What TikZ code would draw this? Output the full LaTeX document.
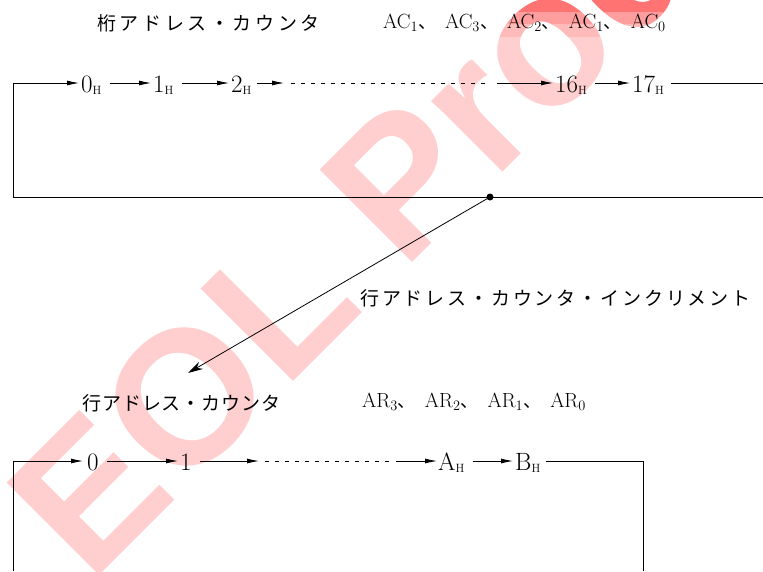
\documentclass[tikz,border=0pt]{standalone}
\usepackage{fontspec}
\newfontfamily\jpA[LetterSpace=19]{Noto Sans CJK JP}
\newfontfamily\jpB[LetterSpace=15]{Noto Sans CJK JP}
\newfontfamily\jpC[LetterSpace=5]{Noto Sans CJK JP}
\newfontfamily\jpN{Noto Sans CJK JP}
\newfontfamily\wmfont{Liberation Sans}
\usetikzlibrary{arrows.meta}
\newcommand{\hx}[1]{#1\raisebox{-2pt}{\fontsize{12pt}{12pt}\selectfont H}}
\newcommand{\sep}{{\jpN\fontsize{18pt}{18pt}\selectfont 、}\hspace{9pt}}
\begin{document}
\begin{tikzpicture}[x=1pt,y=-1pt,
  lbl/.style={inner xsep=0pt, inner ysep=0pt, text height=19pt, text depth=0pt, anchor=west, font=\fontsize{25}{25}\selectfont},
  ttl/.style={inner sep=0pt, anchor=base west},
  jtitle/.style={ttl, font=\fontsize{19}{19}\selectfont},
  actitle/.style={ttl, font=\fontsize{20.5}{20.5}\selectfont},
  ln/.style={line width=0.8pt},
  arr/.style={ln, -{Latex[length=12pt,width=5pt]}},
  narr/.style={arr, shorten <=8pt, shorten >=2pt},
  dsh/.style={ln, dash pattern=on 4pt off 6pt},
  wm/.style={inner sep=0pt, anchor=base west, rotate=45,
    font=\fontsize{190}{190}\selectfont\wmfont\bfseries}]
\useasboundingbox (0,0) rectangle (763,571);
\fill[white] (0,0) rectangle (763,571);
% watermark (pink, turning redder at the top edge)
\node[wm, text=red!19] (wm) at (90,585) {EOL Product};
\foreach \ya/\yb/\c in {0/12/55, 12/24/38, 24/36/27}{
  \begin{scope}
    \clip (0,\ya) rectangle (763,\yb);
    \node[wm, text=red!\c] at (90,585) {EOL Product};
  \end{scope}
}
% titles
\node[jtitle] (tj) at (97,30) {\jpA 桁アドレス・カウンタ};
\node[actitle] (tac) at (383,28) {AC$_1$\sep AC$_3$\sep AC$_2$\sep AC$_1$\sep AC$_0$};
\node[jtitle] (inc) at (360,305) {\jpB 行アドレス・カウンタ・インクリメント};
\node[jtitle] (bj) at (82,410) {\jpC 行アドレス・カウンタ};
\node[actitle] (bar) at (362,407) {AR$_3$\sep AR$_2$\sep AR$_1$\sep AR$_0$};
% top row
\node[lbl] (t0) at (81,83) {\hx{0}};
\node[lbl] (t1) at (153,83) {\hx{1}};
\node[lbl] (t2) at (231,83) {\hx{2}};
\node[lbl] (t16) at (555,83) {\hx{16}};
\node[lbl] (t17) at (632,83) {\hx{17}};
\coordinate (tl) at (13,83);
\coordinate (tbl) at (13,197);
\coordinate (tbr) at (763,197);
\coordinate (tr) at (763,83);
\coordinate (da) at (284,83);
\coordinate (db) at (291,83);
\coordinate (dc) at (490,83);
\coordinate (dd) at (497,83);
\draw[arr, shorten >=2pt] (tl) -- (t0);
\draw[narr] (t0) -- (t1);
\draw[narr] (t1) -- (t2);
\draw[arr, shorten <=5pt] (t2) -- (da);
\draw[dsh] (db) -- (dc);
\draw[arr, shorten >=2pt] (dd) -- (t16);
\draw[narr] (t16) -- (t17);
\draw[ln, shorten <=7pt] (t17) -- (tr);
\draw[ln] (tl) -- (tbl) -- (tbr);
\node[circle, fill=black, inner sep=0pt, minimum size=7pt] (dot) at (490,197) {};
\coordinate (tip) at (188,373);
\draw[ln, -{Stealth[length=15pt,width=8pt]}] (dot.center) -- (tip);
% bottom row
\node[lbl] (b0) at (87,461) {0};
\node[lbl] (b1) at (180,461) {1};
\node[lbl] (bA) at (438,461) {\hx{A}};
\node[lbl] (bB) at (515,461) {\hx{B}};
\coordinate (bl) at (13,461);
\coordinate (bbl) at (13,571);
\coordinate (ea) at (259,461);
\coordinate (eb) at (265,461);
\coordinate (ec) at (390,461);
\coordinate (ed) at (396,461);
\coordinate (br) at (643,461);
\coordinate (bbr) at (643,571);
\draw[arr, shorten >=4pt] (bl) -- (b0);
\draw[narr] (b0) -- (b1);
\draw[arr, shorten <=8pt] (b1) -- (ea);
\draw[dsh] (eb) -- (ec);
\draw[arr, shorten >=1pt] (ed) -- (bA);
\draw[narr] (bA) -- (bB);
\draw[ln, shorten <=5pt] (bB) -- (br) -- (bbr);
\draw[ln] (bl) -- (bbl);
\end{tikzpicture}
\end{document}
